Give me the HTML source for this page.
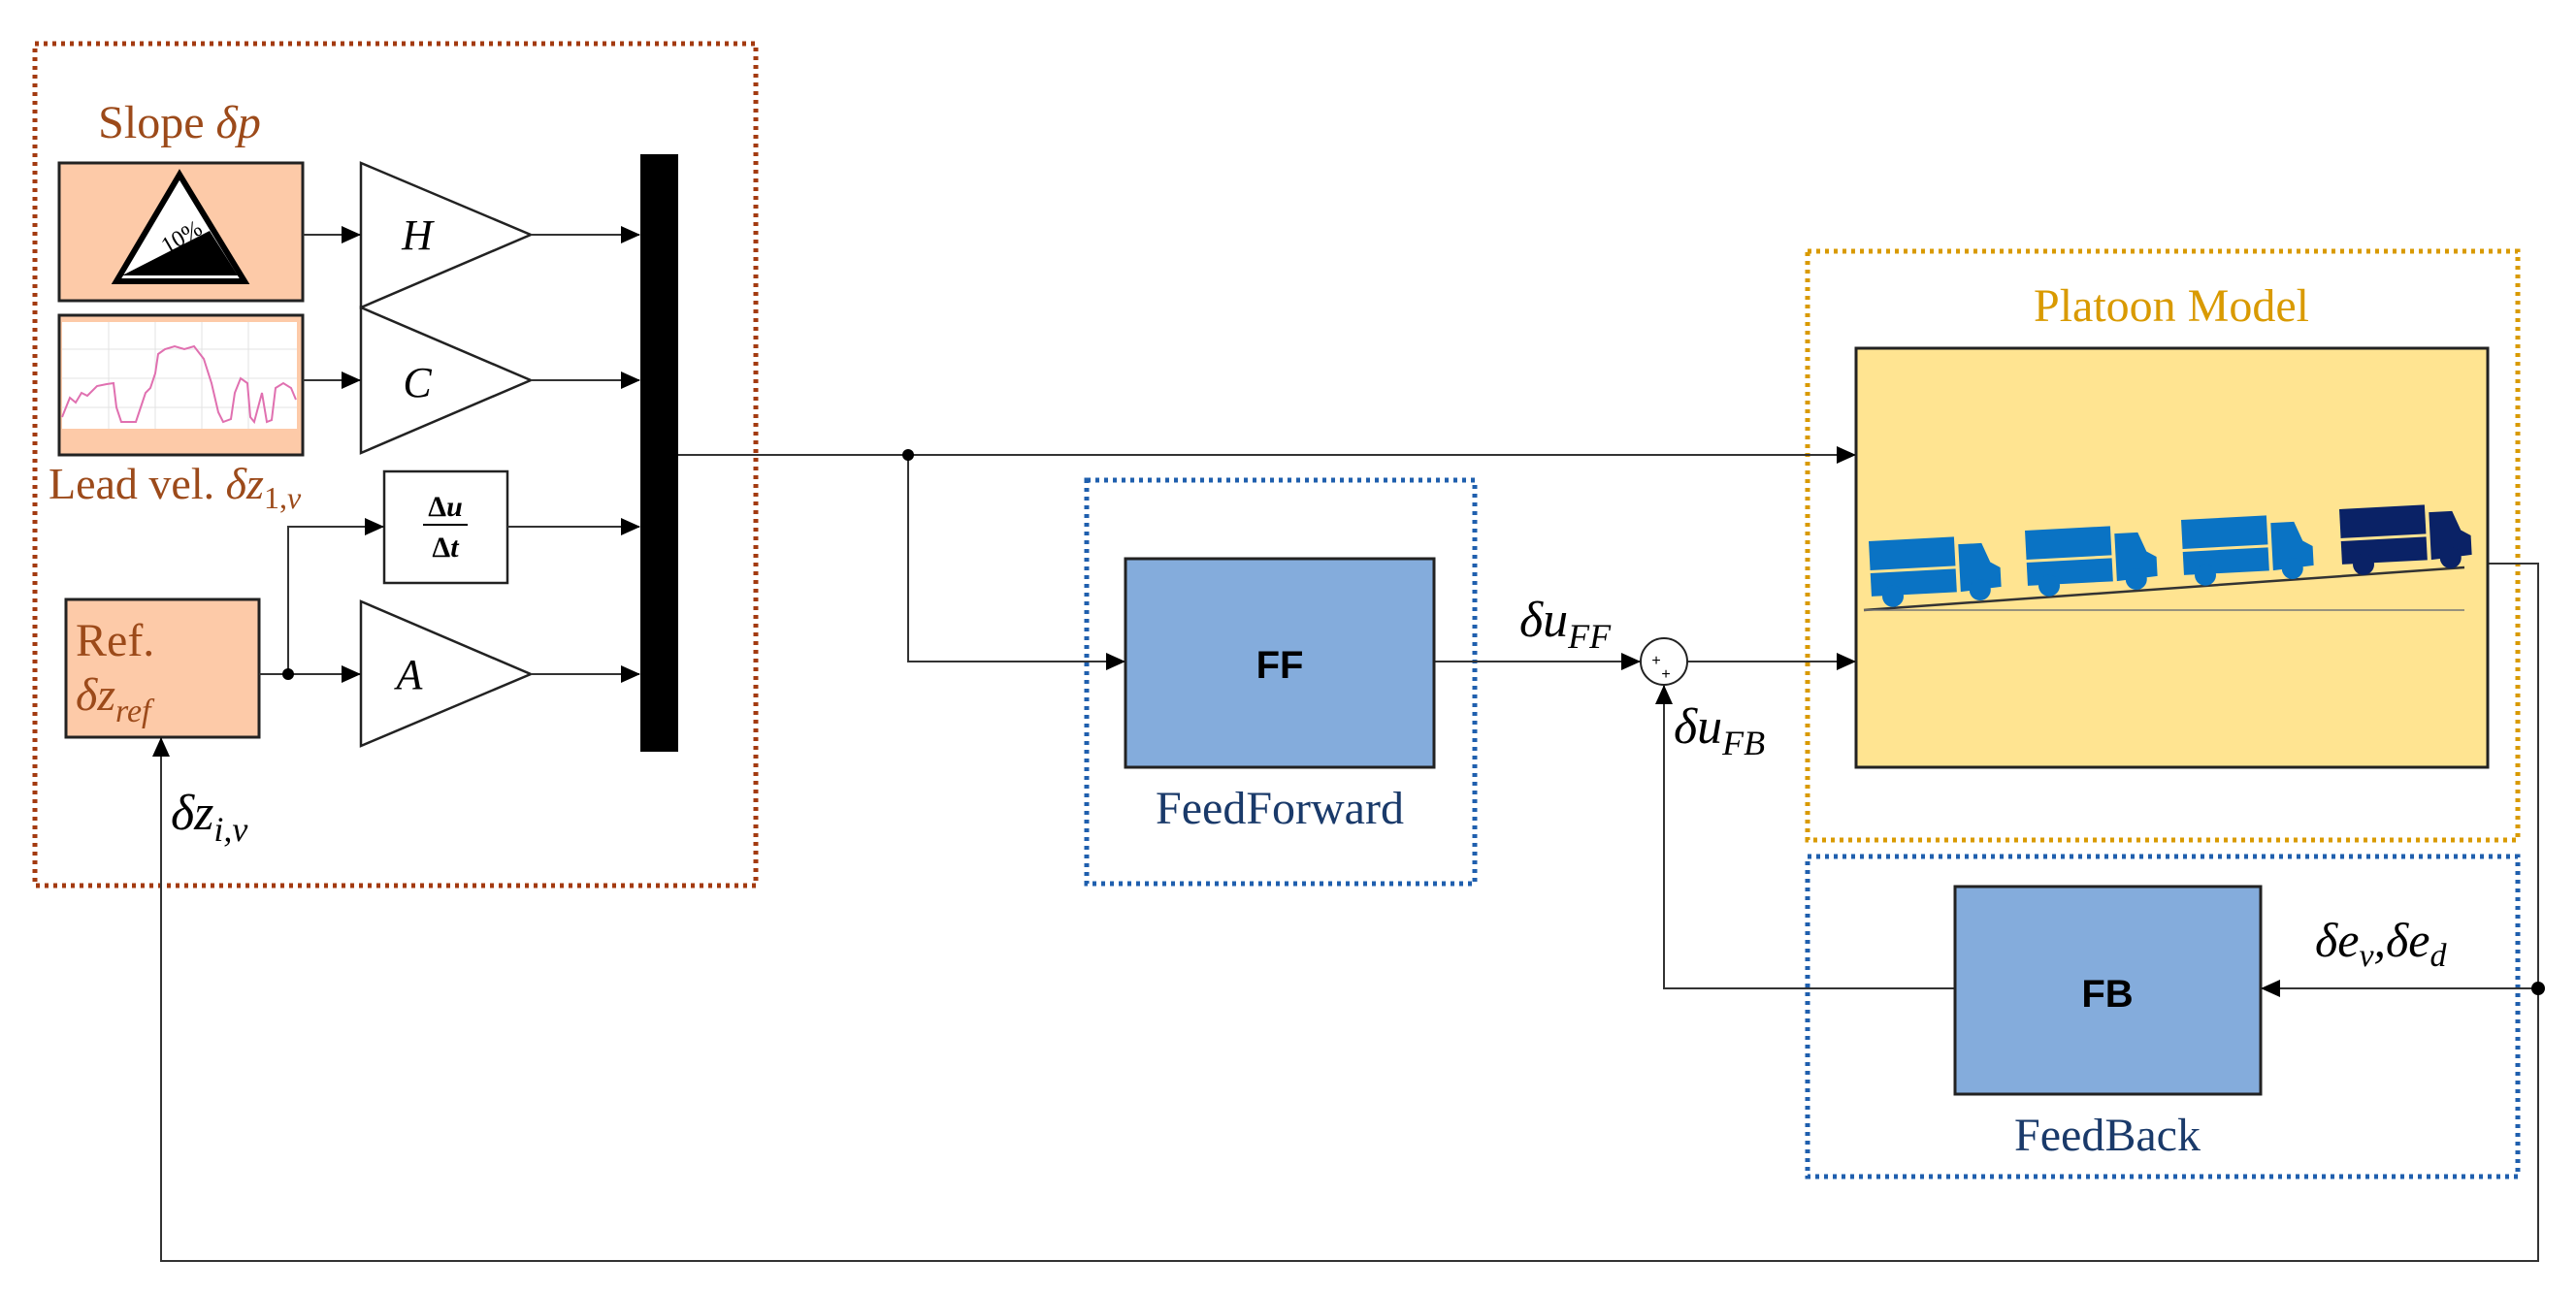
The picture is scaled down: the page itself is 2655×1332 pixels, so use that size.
<!DOCTYPE html>
<html><head><meta charset="utf-8"><style>html,body{margin:0;padding:0;background:#fff}svg{display:block}</style></head>
<body>
<svg width="2655" height="1332" viewBox="0 0 2655 1332" xmlns="http://www.w3.org/2000/svg">
<defs>
<marker id="ab" markerWidth="20" markerHeight="20" refX="19" refY="10" orient="auto" markerUnits="userSpaceOnUse" viewBox="0 0 20 20">
<path d="M0,1 L20,10 L0,19 z" fill="#000"/></marker>
<g id="truck">
<rect x="0" y="0" width="88" height="30" />
<rect x="0" y="33" width="88" height="24" />
<path d="M92,8 L116,8 L124,28 L134,34 L134,54 L92,57 z"/>
<circle cx="22" cy="58" r="11"/><circle cx="112" cy="56" r="11"/>
</g>
</defs>
<rect x="36" y="45" width="743" height="868" fill="none" stroke="#a33a10" stroke-width="5" stroke-dasharray="4 5"/>
<rect x="1120" y="495" width="400" height="416" fill="none" stroke="#1f5fae" stroke-width="5" stroke-dasharray="4 5"/>
<rect x="1863" y="259" width="732" height="607" fill="none" stroke="#d99a00" stroke-width="5" stroke-dasharray="4 5"/>
<rect x="1863" y="883" width="732" height="330" fill="none" stroke="#1f5fae" stroke-width="5" stroke-dasharray="4 5"/>

<text x="185" y="142" font-family="Liberation Serif" font-size="48" fill="#9c4a1a" text-anchor="middle">Slope <tspan font-style="italic">δp</tspan></text>
<rect x="61" y="168" width="251" height="142" fill="#fdcaa8" stroke="#222" stroke-width="3"/>
<path d="M185,180 L120,290 L252,290 z" fill="#fff" stroke="#000" stroke-width="6"/>
<path d="M126,284 L216,238 L245,284 z" fill="#000"/>
<text x="172" y="262" font-family="Liberation Serif" font-size="24" fill="#000" transform="rotate(-30 172 262)">10%</text>

<rect x="61" y="325" width="251" height="144" fill="#fdcaa8" stroke="#222" stroke-width="3"/>
<rect x="64" y="332" width="242" height="110" fill="#fff"/>
<g stroke="#e3e3e3" stroke-width="1"><line x1="64" y1="360" x2="306" y2="360"/><line x1="64" y1="390" x2="306" y2="390"/><line x1="64" y1="420" x2="306" y2="420"/><line x1="112" y1="332" x2="112" y2="442"/><line x1="160" y1="332" x2="160" y2="442"/><line x1="208" y1="332" x2="208" y2="442"/><line x1="256" y1="332" x2="256" y2="442"/></g>
<polyline fill="none" stroke="#e070b0" stroke-width="2" points="64,430 72,410 78,415 84,405 90,408 100,398 110,396 117,395 120,420 125,435 140,435 145,420 150,405 155,400 160,385 163,365 170,360 180,357 190,360 200,357 210,370 218,395 225,425 230,435 238,432 242,405 248,390 255,395 258,430 262,435 266,420 270,405 275,435 280,433 284,400 292,395 300,400 305,412"/>
<text x="50" y="514" font-family="Liberation Serif" font-size="46" fill="#9c4a1a">Lead vel. <tspan font-style="italic">δz</tspan><tspan font-size="32" dy="10">1,<tspan font-style="italic">v</tspan></tspan></text>

<rect x="68" y="618" width="199" height="142" fill="#fdcaa8" stroke="#222" stroke-width="3"/>
<text x="78" y="676" font-family="Liberation Serif" font-size="48" fill="#9c4a1a">Ref.</text>
<text x="78" y="732" font-family="Liberation Serif" font-size="48" font-style="italic" fill="#9c4a1a">δz<tspan font-size="34" dy="12">ref</tspan></text>

<g fill="#fff" stroke="#222" stroke-width="2.5">
<path d="M372,168 L547,242 L372,317 z"/>
<path d="M372,317 L547,392 L372,467 z"/>
<path d="M372,620 L547,695 L372,769 z"/>
<rect x="396" y="486" width="127" height="115"/>
</g>
<g font-family="Liberation Serif" font-style="italic" font-size="44" fill="#000" text-anchor="middle">
<text x="430" y="257">H</text><text x="430" y="409">C</text><text x="422" y="710">A</text>
</g>
<g font-family="Liberation Serif" font-size="30" font-weight="bold" fill="#000" text-anchor="middle">
<text x="459" y="532">Δ<tspan font-style="italic">u</tspan></text>
<line x1="436" y1="541" x2="482" y2="541" stroke="#000" stroke-width="2"/>
<text x="459" y="574">Δ<tspan font-style="italic">t</tspan></text>
</g>
<rect x="660" y="159" width="39" height="616" fill="#000"/>

<g stroke="#333" stroke-width="2" fill="none">
<line x1="312" y1="242" x2="371" y2="242" marker-end="url(#ab)"/>
<line x1="312" y1="392" x2="371" y2="392" marker-end="url(#ab)"/>
<line x1="547" y1="242" x2="659" y2="242" marker-end="url(#ab)"/>
<line x1="547" y1="392" x2="659" y2="392" marker-end="url(#ab)"/>
<line x1="523" y1="543" x2="659" y2="543" marker-end="url(#ab)"/>
<line x1="547" y1="695" x2="659" y2="695" marker-end="url(#ab)"/>
<line x1="267" y1="695" x2="371" y2="695" marker-end="url(#ab)"/>
<polyline points="297,695 297,543 395,543" marker-end="url(#ab)"/>
<line x1="699" y1="469" x2="1912" y2="469" marker-end="url(#ab)"/>
<polyline points="936,469 936,682 1159,682" marker-end="url(#ab)"/>
<line x1="1478" y1="682" x2="1690" y2="682" marker-end="url(#ab)"/>
<line x1="1739" y1="682" x2="1912" y2="682" marker-end="url(#ab)"/>
<polyline points="2565,581 2616,581 2616,1300 166,1300 166,761" marker-end="url(#ab)"/>
<line x1="2616" y1="1019" x2="2331" y2="1019" marker-end="url(#ab)"/>
<polyline points="2015,1019 1715,1019 1715,707" marker-end="url(#ab)"/>
</g>
<circle cx="297" cy="695" r="6" fill="#000"/>
<circle cx="936" cy="469" r="6" fill="#000"/>
<circle cx="2616" cy="1019" r="7" fill="#000"/>

<rect x="1160" y="576" width="318" height="215" fill="#84acdc" stroke="#222" stroke-width="3"/>
<text x="1319" y="699" font-family="Liberation Sans" font-weight="bold" font-size="40" text-anchor="middle">FF</text>
<text x="1319" y="849" font-family="Liberation Serif" font-size="48" fill="#1a3a6a" text-anchor="middle">FeedForward</text>

<circle cx="1715" cy="682" r="24" fill="#fff" stroke="#222" stroke-width="2"/>
<text x="1707" y="686" font-family="Liberation Sans" font-size="16" text-anchor="middle">+</text>
<text x="1717" y="700" font-family="Liberation Sans" font-size="16" text-anchor="middle">+</text>
<text x="1566" y="656" font-family="Liberation Serif" font-style="italic" font-size="52">δu<tspan font-size="36" dy="12">FF</tspan></text>
<text x="1725" y="766" font-family="Liberation Serif" font-style="italic" font-size="52">δu<tspan font-size="36" dy="12">FB</tspan></text>

<text x="2238" y="331" font-family="Liberation Serif" font-size="48" fill="#d99a00" text-anchor="middle">Platoon Model</text>
<rect x="1913" y="359" width="651" height="432" fill="#ffe491" stroke="#222" stroke-width="3"/>
<line x1="1921" y1="629" x2="2540" y2="585" stroke="#333" stroke-width="2.5"/>
<line x1="1921" y1="629" x2="2540" y2="629" stroke="#777" stroke-width="1.5"/>
<g fill="#0a73c4">
<use href="#truck" transform="translate(1926,558) rotate(-3)"/>
<use href="#truck" transform="translate(2087,547) rotate(-3)"/>
<use href="#truck" transform="translate(2248,536) rotate(-3)"/>
</g>
<g fill="#0a2266"><use href="#truck" transform="translate(2411,525) rotate(-3)"/></g>

<rect x="2015" y="914" width="315" height="214" fill="#84acdc" stroke="#222" stroke-width="3"/>
<text x="2172" y="1038" font-family="Liberation Sans" font-weight="bold" font-size="40" text-anchor="middle">FB</text>
<text x="2172" y="1186" font-family="Liberation Serif" font-size="48" fill="#1a3a6a" text-anchor="middle">FeedBack</text>
<text x="2386" y="986" font-family="Liberation Serif" font-style="italic" font-size="50">δe<tspan font-size="34" dy="10">v</tspan><tspan dy="-10">,δe</tspan><tspan font-size="34" dy="10">d</tspan></text>

<text x="176" y="855" font-family="Liberation Serif" font-style="italic" font-size="52">δz<tspan font-size="36" dy="12">i,v</tspan></text>
</svg>
</body></html>
